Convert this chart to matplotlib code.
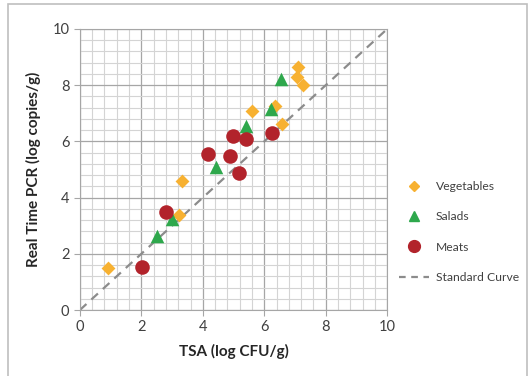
import matplotlib.pyplot as plt
from matplotlib.lines import Line2D
from matplotlib.patches import Rectangle

plt.rcParams['font.family'] = ['Lato', 'DejaVu Sans']

# Vegetables
veg_x = [0.9, 3.31, 3.23, 5.61, 6.35, 6.57, 7.09, 7.08, 7.25]
veg_y = [1.5, 4.6, 3.38, 7.08, 7.26, 6.63, 8.66, 8.28, 8.0]

# Salads
sal_x = [2.5, 2.99, 4.43, 5.4, 6.21, 6.55]
sal_y = [2.63, 3.25, 5.1, 6.55, 7.14, 8.22]

# Meats
meat_x = [2.01, 2.79, 5.17, 4.18, 4.89, 4.98, 5.42, 6.25]
meat_y = [1.54, 3.5, 4.86, 5.54, 5.49, 6.2, 6.09, 6.29]

std_x = [0, 10]
std_y = [0, 10]

ticks = [0, 2, 4, 6, 8, 10]

fig = plt.figure(figsize=(5.29, 3.76), dpi=100)
ax = fig.add_axes([0.151, 0.1755, 0.581, 0.7475])

ax.set_xlim(0, 10)
ax.set_ylim(0, 10)
ax.set_xticks(ticks)
ax.set_yticks(ticks)
ax.set_xticks([i * 0.4 for i in range(26)], minor=True)
ax.set_yticks([i * 0.4 for i in range(26)], minor=True)
ax.grid(which='minor', color='#d4d4d4', linewidth=0.8)
ax.grid(which='major', color='#a6a6a6', linewidth=0.9)
ax.set_axisbelow(True)
ax.tick_params(which='minor', length=0)
ax.tick_params(which='major', length=4, color='#a6a6a6', labelsize=10.5, colors='#404040')
for s in ax.spines.values():
    s.set_color('#a6a6a6')

ax.plot(std_x, std_y, color='#8c8c8c', linestyle=(0, (4, 3)), linewidth=1.6, zorder=2)
ax.scatter(veg_x, veg_y, marker='D', s=50, color='#F7B131', zorder=3, linewidths=0)
ax.scatter(sal_x, sal_y, marker='^', s=95, color='#2EA84C', zorder=3, linewidths=0)
ax.scatter(meat_x, meat_y, marker='o', s=110, color='#B2232B', zorder=3, linewidths=0)

ax.set_xlabel('TSA (log CFU/g)', fontsize=11, fontweight='bold', color='#262626', labelpad=7)
ax.set_ylabel('Real Time PCR (log copies/g)', fontsize=11, fontweight='bold', color='#262626', labelpad=8)

handles = [
    Line2D([], [], marker='D', color='#F7B131', linestyle='none', markersize=5),
    Line2D([], [], marker='^', color='#2EA84C', linestyle='none', markersize=7.5),
    Line2D([], [], marker='o', color='#B2232B', linestyle='none', markersize=8.5),
    Line2D([], [], color='#8c8c8c', linestyle=(0, (3, 2.5)), linewidth=1.6),
]
labels = ['Vegetables', 'Salads', 'Meats', 'Standard Curve']
fig.legend(handles, labels, loc='center left', bbox_to_anchor=(0.733, 0.383),
           frameon=False, fontsize=8.7, labelspacing=1.6, handlelength=2.5,
           handletextpad=0.6, labelcolor='#404040')

fig.patches.append(Rectangle((8 / 529, -0.01), 519 / 529, 1.0, transform=fig.transFigure,
                             fill=False, edgecolor='#bfbfbf', linewidth=1.2))

fig.savefig('out.png', dpi=100)
